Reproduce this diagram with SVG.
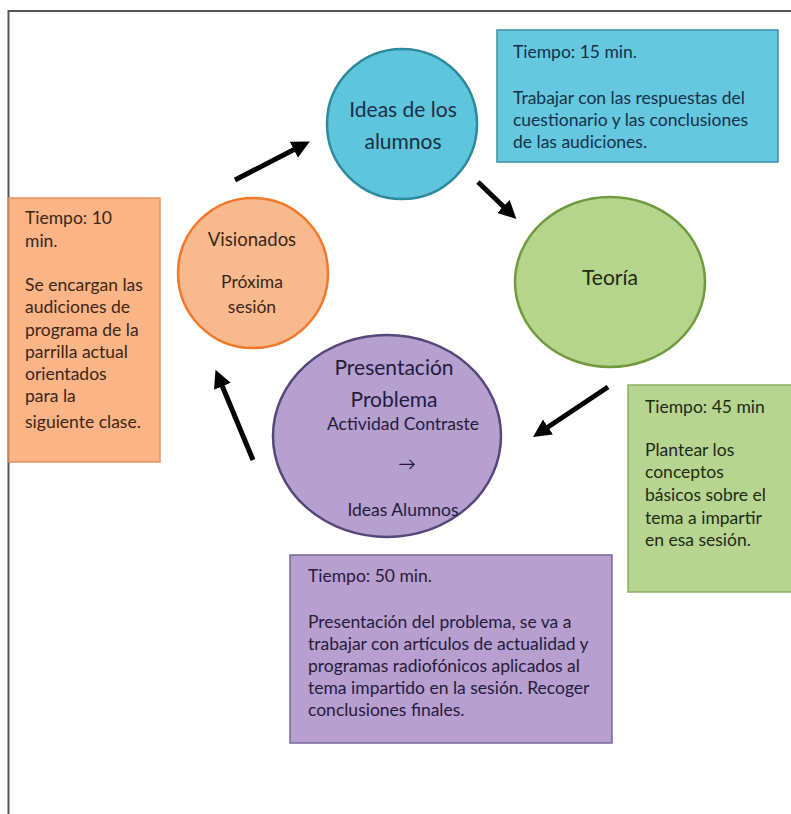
<svg xmlns="http://www.w3.org/2000/svg" width="791" height="814" viewBox="0 0 791 814">
<defs>
<marker id="ah" viewBox="0 0 10 10" refX="2" refY="5" markerWidth="3.6" markerHeight="3.6" orient="auto" markerUnits="strokeWidth">
<path d="M0,0 L10,5 L0,10 z" fill="#000"/>
</marker>
<style>
text{font-family:Lato,"Open Sans","Liberation Sans",sans-serif;}
.t{font-size:17.5px;}
.c{font-size:21px;text-anchor:middle;}
.cs{font-size:17.5px;text-anchor:middle;}
.arr{stroke:#000;stroke-width:5;fill:none;marker-end:url(#ah);}
</style>
</defs>
<rect width="791" height="814" fill="#fff"/>
<path d="M8.5,814 V11 H791" fill="none" stroke="#555" stroke-width="2"/>

<g id="n-ideas">
<circle cx="402" cy="124" r="75" fill="#5fc5dd" stroke="#2c8a9c" stroke-width="2.5"/>
<text class="c" x="403" y="117" fill="#1a2f45">Ideas de los</text>
<text class="c" x="403" y="149" fill="#1a2f45">alumnos</text>
</g>

<g id="n-box15">
<rect x="497" y="30" width="281" height="132" fill="#66c8de" stroke="#3e8ea3" stroke-width="1.5"/>
<text class="t" x="513" y="58" fill="#14304a">Tiempo: 15 min.</text>
<text class="t" x="513" y="104" fill="#14304a">Trabajar con las respuestas del</text>
<text class="t" x="513" y="126" fill="#14304a">cuestionario y las conclusiones</text>
<text class="t" x="513" y="148" fill="#14304a">de las audiciones.</text>
</g>

<g id="n-box10">
<rect x="9" y="198" width="151" height="264" fill="#fbb486" stroke="#e89566" stroke-width="1.5"/>
<text class="t" x="25" y="224" fill="#3a2616">Tiempo: 10</text>
<text class="t" x="25" y="247" fill="#3a2616">min.</text>
<text class="t" x="25" y="291" fill="#3a2616">Se encargan las</text>
<text class="t" x="25" y="313" fill="#3a2616">audiciones de</text>
<text class="t" x="25" y="336" fill="#3a2616">programa de la</text>
<text class="t" x="25" y="358" fill="#3a2616">parrilla actual</text>
<text class="t" x="25" y="380" fill="#3a2616">orientados</text>
<text class="t" x="25" y="402" fill="#3a2616">para la</text>
<text class="t" x="25" y="428" fill="#3a2616">siguiente clase.</text>
</g>

<g id="n-visionados">
<circle cx="253" cy="273" r="75" fill="#f9b98f" stroke="#f07a2a" stroke-width="2.5"/>
<text class="cs" x="252" y="246" fill="#3a2616" style="font-size:18.5px">Visionados</text>
<text class="cs" x="252" y="288" fill="#3a2616">Próxima</text>
<text class="cs" x="252" y="313" fill="#3a2616">sesión</text>
</g>

<g id="n-teoria">
<ellipse cx="610" cy="282" rx="95" ry="85" fill="#b5d48c" stroke="#6f9a3e" stroke-width="2.5"/>
<text class="c" x="610" y="285" fill="#1e2a12">Teoría</text>
</g>

<g id="n-box45">
<rect x="628" y="385" width="170" height="207" fill="#b7d591" stroke="#8db064" stroke-width="1.5"/>
<text class="t" x="645" y="413" fill="#1e2a12">Tiempo: 45 min</text>
<text class="t" x="645" y="456" fill="#1e2a12">Plantear los</text>
<text class="t" x="645" y="478" fill="#1e2a12">conceptos</text>
<text class="t" x="645" y="501" fill="#1e2a12">básicos sobre el</text>
<text class="t" x="645" y="524" fill="#1e2a12">tema a impartir</text>
<text class="t" x="645" y="546" fill="#1e2a12">en esa sesión.</text>
</g>

<g id="n-presentacion">
<ellipse cx="387" cy="436" rx="114" ry="101" fill="#b5a0d0" stroke="#56477a" stroke-width="2.5"/>
<text class="c" x="394" y="375" fill="#261a3a">Presentación</text>
<text class="c" x="394" y="407" fill="#261a3a">Problema</text>
<text class="cs" x="403" y="430" fill="#261a3a">Actividad Contraste</text>
<text class="cs" x="407" y="470" fill="#261a3a">→</text>
<text class="cs" x="403" y="516" fill="#261a3a">Ideas Alumnos</text>
</g>

<g id="n-box50">
<rect x="290" y="555" width="322" height="188" fill="#b7a0d0" stroke="#7a6996" stroke-width="1.5"/>
<text class="t" x="308" y="582" fill="#261a3a">Tiempo: 50 min.</text>
<text class="t" x="308" y="628" fill="#261a3a">Presentación del problema, se va a</text>
<text class="t" x="308" y="650" fill="#261a3a">trabajar con artículos de actualidad y</text>
<text class="t" x="308" y="672" fill="#261a3a">programas radiofónicos aplicados al</text>
<text class="t" x="308" y="694" fill="#261a3a">tema impartido en la sesión. Recoger</text>
<text class="t" x="308" y="716" fill="#261a3a">conclusiones finales.</text>
</g>

<g id="connectors">
<line class="arr" x1="235" y1="180" x2="297" y2="148"/>
<line class="arr" x1="478" y1="182" x2="506" y2="209"/>
<line class="arr" x1="608" y1="387" x2="545" y2="429"/>
<line class="arr" x1="253" y1="460" x2="221" y2="383"/>
</g>
</svg>
